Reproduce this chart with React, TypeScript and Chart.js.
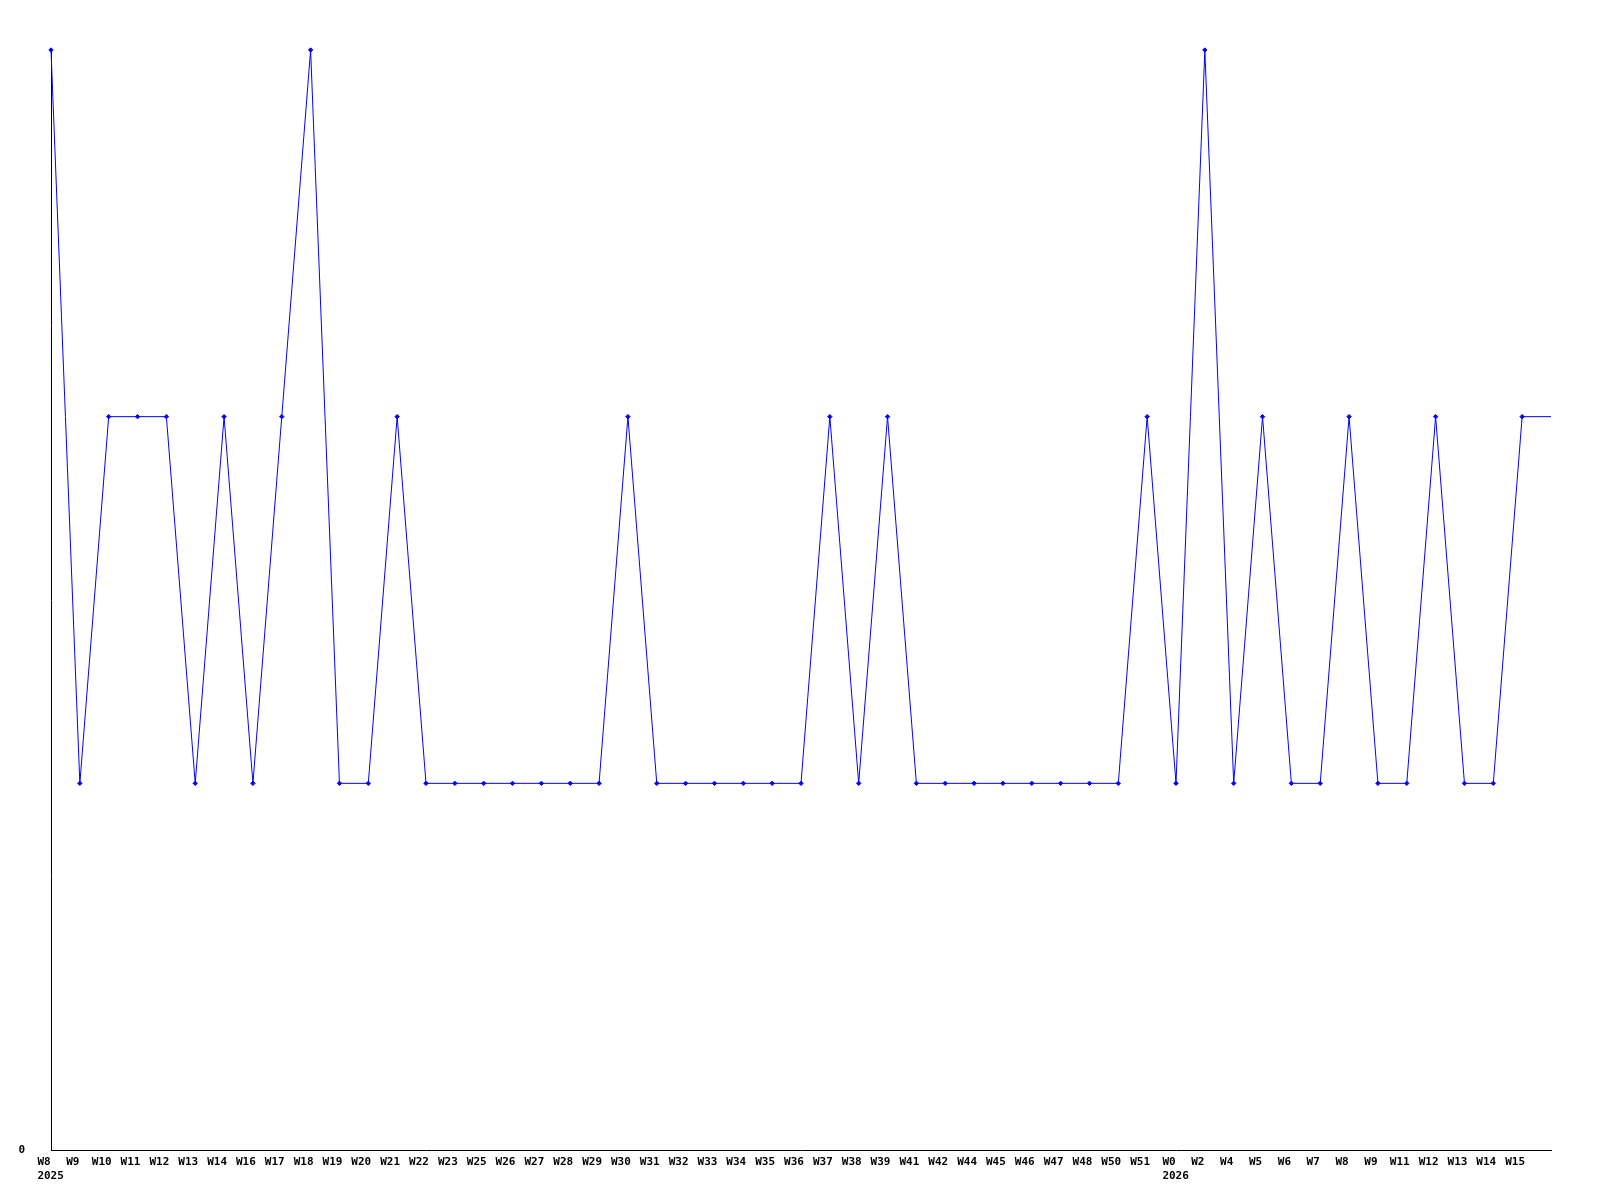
import React, { useEffect, useRef } from "react";
import { Chart, registerables } from "chart.js";

Chart.register(...registerables);

const weekLabels: (string | string[])[] = [
  ["W8", "  2025"], "W9", "W10", "W11", "W12", "W13", "W14", "W16", "W17", "W18",
  "W19", "W20", "W21", "W22", "W23", "W25", "W26", "W27", "W28", "W29",
  "W30", "W31", "W32", "W33", "W34", "W35", "W36", "W37", "W38", "W39",
  "W41", "W42", "W44", "W45", "W46", "W47", "W48", "W50", "W51",
  ["W0", "  2026"], "W2", "W4", "W5", "W6", "W7", "W8", "W9", "W11", "W12", "W13", "W14", "W15",
  "",
];

const seriesValues: number[] = [
  3, 1, 2, 2, 2, 1, 2, 1, 2, 3,
  1, 1, 2, 1, 1, 1, 1, 1, 1, 1,
  2, 1, 1, 1, 1, 1, 1, 2, 1, 2,
  1, 1, 1, 1, 1, 1, 1, 1, 2,
  1, 3, 1, 2, 1, 1, 2, 1, 1, 2, 1, 1, 2,
  2,
];

const yTickLabels: Record<number, string> = { 0: "0" };

const FONT = { family: "'DejaVu Sans Mono', monospace", size: 11, weight: "bold" as const, lineHeight: 1.3 };

export default function App() {
  const canvasRef = useRef<HTMLCanvasElement | null>(null);

  useEffect(() => {
    document.body.style.margin = "0";
    const canvas = canvasRef.current;
    if (!canvas) return;
    const last = seriesValues.length - 1;
    const chart = new Chart(canvas, {
      type: "line",
      data: {
        labels: weekLabels,
        datasets: [
          {
            data: seriesValues,
            borderColor: "#0000ff",
            backgroundColor: "#0000ff",
            borderWidth: 1,
            tension: 0,
            fill: false,
            pointStyle: "rectRot",
            pointRadius: (ctx: any) => (ctx.dataIndex === last ? 0 : 2.2),
            pointBorderWidth: 1,
            pointBorderColor: "#0000ff",
            pointBackgroundColor: "#0000ff",
            clip: false as any,
          },
        ],
      },
      options: {
        animation: false,
        responsive: false,
        maintainAspectRatio: false,
        layout: { padding: { top: 50, right: 49, left: 0, bottom: 0 } },
        plugins: { legend: { display: false }, tooltip: { enabled: false }, title: { display: false } },
        scales: {
          x: {
            type: "category",
            offset: false,
            grid: { display: false, drawTicks: false },
            border: { display: true, color: "#000000", width: 1 },
            ticks: {
              autoSkip: false,
              maxRotation: 0,
              minRotation: 0,
              padding: 5,
              labelOffset: -7,
              color: "#000000",
              font: FONT,
            },
            afterFit: (scale: any) => {
              scale.height = 50;
            },
          },
          y: {
            min: 0,
            max: 3,
            grid: { display: false, drawTicks: false },
            border: { display: true, color: "#000000", width: 1 },
            ticks: {
              stepSize: 1,
              padding: 26,
              color: "#000000",
              font: FONT,
              callback: (v: any) => yTickLabels[Number(v)] ?? "",
            },
            afterFit: (scale: any) => {
              scale.width = 51;
            },
          },
        },
      },
    });
    return () => chart.destroy();
  }, []);

  return (
    <div style={{ width: 1600, height: 1200, background: "#ffffff" }}>
      <canvas ref={canvasRef} width={1600} height={1200} style={{ display: "block", width: 1600, height: 1200 }} />
    </div>
  );
}
